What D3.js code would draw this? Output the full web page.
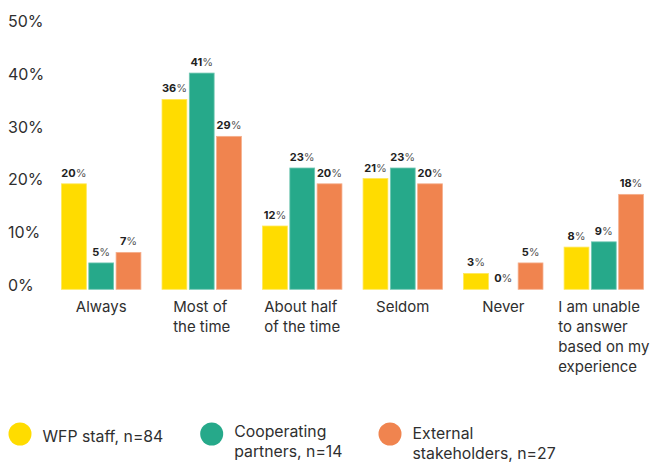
<!DOCTYPE html>
<html>
<head>
<meta charset="utf-8">
<script src="https://cdn.jsdelivr.net/npm/d3@7"></script>
<style>
  html, body { margin: 0; padding: 0; background: #fff; }
  svg { display: block; font-family: Inter, Roboto, "Noto Sans", sans-serif; }
</style>
</head>
<body>
<svg id="chart" width="655" height="462"></svg>
<script>
// Response categories (each line of a label is a separate entry)
const categories = ["Always", "Most of the time", "About half of the time", "Seldom", "Never", "I am unable to answer based on my experience"];
const categoryLines = [
  ["Always"],
  ["Most of", "the time"],
  ["About half", "of the time"],
  ["Seldom"],
  ["Never"],
  ["I am unable", "to answer", "based on my", "experience"]
];
const seriesNames = ["WFP staff", "Cooperating partners", "External stakeholders"];
const legendLines = [
  ["WFP staff, n=84"],
  ["Cooperating", "partners, n=14"],
  ["External", "stakeholders, n=27"]
];
const wfpStaff = [20, 36, 12, 21, 3, 8];
const cooperatingPartners = [5, 41, 23, 23, 0, 9];
const externalStakeholders = [7, 29, 20, 20, 5, 18];
const yTicks = [0, 10, 20, 30, 40, 50];
const colors = ["#FFDC00", "#26A98A", "#F0844F"];

const seriesValues = [wfpStaff, cooperatingPartners, externalStakeholders];

const svg = d3.select("#chart");
const textColor = "#2f2f2f";

const x0 = d3.scaleBand().domain(categories).range([61.5, 643.5]).paddingInner(0.21).paddingOuter(0);
const x1 = d3.scaleBand().domain(seriesNames).range([0, x0.bandwidth()]).paddingInner(0.09).paddingOuter(0);
const y = d3.scaleLinear().domain([0, 50]).range([289.3, 25.6]);

// Y axis labels (no axis line or gridlines)
svg.append("g").selectAll("text")
  .data(yTicks)
  .join("text")
  .attr("x", 8)
  .attr("y", d => y(d) + 1.5)
  .attr("fill", textColor)
  .attr("font-size", 16)
  .text(d => d + "%");

// Bars
const groups = svg.append("g").selectAll("g")
  .data(categories)
  .join("g")
  .attr("transform", d => `translate(${x0(d)},0)`);

const cells = groups.selectAll("g")
  .data((c, i) => seriesNames.map((s, j) => ({ series: s, value: seriesValues[j][i], color: colors[j] })))
  .join("g");

cells.append("rect")
  .attr("x", d => x1(d.series))
  .attr("width", x1.bandwidth())
  .attr("y", d => y(d.value))
  .attr("height", d => y(0) - y(d.value))
  .attr("fill", d => d.color)
  .attr("stroke", d => d3.interpolateRgb(d.color, "#fff")(0.35))
  .attr("stroke-width", 0.8);

// Value labels
const vl = cells.append("text")
  .attr("x", d => x1(d.series) + x1.bandwidth() / 2)
  .attr("y", d => y(d.value) - 7)
  .attr("text-anchor", "middle")
  .attr("font-size", 11)
  .attr("fill", "#222");
vl.append("tspan").attr("font-weight", 700).text(d => d.value);
vl.append("tspan").attr("font-weight", 400).attr("fill", "#555").text("%");

// Category labels: lines left-aligned, block centred under each group
const catG = svg.append("g");
categories.forEach((c, i) => {
  const t = catG.append("text")
    .attr("fill", textColor)
    .attr("font-size", 15);
  categoryLines[i].forEach((line, k) => {
    t.append("tspan").attr("y", 311.5 + k * 20).text(line);
  });
  const w = d3.max(t.selectAll("tspan").nodes(), n => n.getComputedTextLength());
  const left = x0(c) + x0.bandwidth() / 2 - w / 2;
  t.selectAll("tspan").attr("x", left);
});

// Legend
const legendX = [20, 211.7, 390];
const legendBase = [441.5, 436.7, 439.3];
const legend = svg.append("g");
seriesNames.forEach((s, j) => {
  legend.append("circle")
    .attr("cx", legendX[j])
    .attr("cy", 434)
    .attr("r", 11.5)
    .attr("fill", colors[j]);
  const t = legend.append("text")
    .attr("fill", textColor)
    .attr("font-size", 15.8);
  legendLines[j].forEach((line, k) => {
    t.append("tspan")
      .attr("x", legendX[j] + 22.5)
      .attr("y", legendBase[j] + k * 20)
      .text(line);
  });
});
</script>
</body>
</html>
